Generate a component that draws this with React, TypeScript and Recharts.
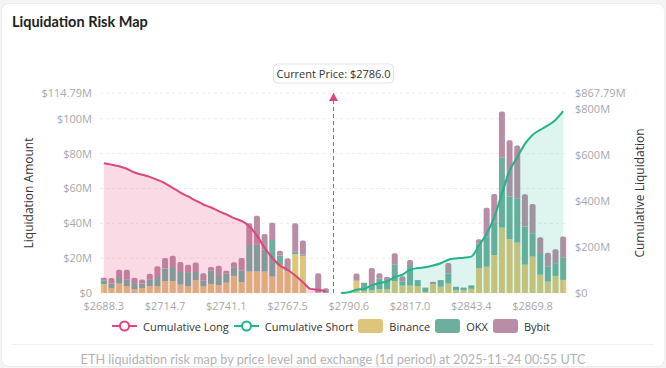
import { ComposedChart, Bar, Area, XAxis, YAxis, CartesianGrid, Legend, ReferenceLine } from 'recharts'

// price levels (bins), current price inserted between long and short sides
const prices = [
  '2688.3', '2691.6', '2694.9', '2698.2', '2701.5', '2704.8', '2708.1', '2711.4', '2714.7', '2718.0',
  '2721.3', '2724.6', '2727.9', '2731.2', '2734.5', '2737.8', '2741.1', '2744.4', '2747.7', '2751.0',
  '2754.3', '2757.6', '2760.9', '2764.2', '2767.5', '2770.8', '2774.1', '2777.4', '2780.7', '2784.0',
  '2786.0',
  '2787.3', '2790.6', '2793.9', '2797.2', '2800.5', '2803.8', '2807.1', '2810.4', '2813.7', '2817.0',
  '2820.3', '2823.6', '2826.9', '2830.2', '2833.5', '2836.8', '2840.1', '2843.4', '2846.7', '2850.0',
  '2853.3', '2856.6', '2859.9', '2863.2', '2866.5', '2869.8', '2873.1', '2876.4', '2879.7', '2883.0',
]
const currentPrice = '2786.0'

// liquidation amount per exchange, $M
const binance = [
  5.0, 2.9, 5.4, 4.0, 2.1, 2.9, 4.0, 3.8, 6.9, 6.9, 4.8, 3.8, 7.3, 3.8, 5.2, 4.6, 5.9, 9.8, 6.3, 12.3,
  12.3, 12.3, 9.4, 16.1, 12.5, 22.3, 21.3, 0, 0.3, 0,
  null,
  0, 0, 6.9, 1.2, 1.5, 2.1, 2.1, 6.9, 4.2, 4.2, 4.0, 0.6, 5.2, 3.6, 5.4, 1.6, 1.6, 2.4, 14.2, 15.1,
  21.8, 37.5, 30.9, 28.9, 16.3, 20.9, 10.5, 6.5, 9.8, 7.5,
]
const okx = [
  2.3, 2.5, 3.2, 3.6, 3.6, 2.5, 3.6, 5.4, 7.1, 8.0, 7.3, 8.2, 4.8, 3.4, 7.8, 5.7, 5.4, 5.0, 6.4, 15.3,
  15.7, 12.5, 21.0, 5.5, 1.8, 1.4, 0.6, 0, 1.0, 0.5,
  null,
  0, 0, 0.3, 4.7, 2.0, 6.3, 5.4, 9.6, 2.5, 11.9, 3.4, 2.5, 0, 3.8, 5.9, 2.0, 1.5, 2.0, 14.0, 17.2,
  19.1, 40.4, 24.5, 25.5, 21.8, 13.4, 11.9, 8.6, 7.3, 12.8,
]
const bybit = [
  1.5, 3.2, 4.8, 5.7, 3.1, 2.3, 3.4, 6.1, 6.1, 6.5, 5.7, 4.2, 5.4, 4.2, 1.9, 5.4, 1.5, 2.9, 7.4, 12.4,
  16.3, 9.0, 9.9, 2.6, 5.7, 16.3, 8.2, 0, 10.0, 2.2,
  null,
  0, 0, 4.0, 0, 10.9, 3.0, 1.7, 6.3, 2.9, 2.9, 0.1, 0, 1.3, 0, 5.9, 0, 0, 0, 2.7, 16.7,
  15.9, 26.3, 32.2, 30.3, 18.6, 16.8, 9.6, 8.0, 8.0, 12.1,
]

// cumulative liquidation, $M
const cumLong = [
  563, 557, 550, 539, 523, 513, 504, 491, 476, 456, 436, 419, 401, 384, 371, 355, 341, 325, 312, 290,
  249, 196, 153, 119, 101, 76, 47, 18, 14, 8,
]
const cumShort = [
  0, 3, 14, 18, 33, 43, 50, 69, 80, 101, 108, 112, 119, 129, 144, 150, 153, 158, 206, 257,
  329, 430, 531, 589, 647, 686, 708, 727, 751, 788.9,
]

const leftTicks = [0, 20, 40, 60, 80, 100, 114.79]
const rightTicks = [0, 200, 400, 600, 800, 867.79]

const longColor = '#e0457b'
const shortColor = '#22b38b'
const binanceColor = '#dec57b'
const okxColor = '#6fae9f'
const bybitColor = '#b98da6'

const shortStart = prices.length - cumShort.length

const data = prices.map((p, i) => ({
  price: p,
  binance: binance[i],
  okx: okx[i],
  bybit: bybit[i],
  cumLong: i < cumLong.length ? cumLong[i] : null,
  cumShort: i >= shortStart ? cumShort[i - shortStart] : null,
}))

const money = (v: number) => (v === 0 ? '$0' : `$${v}M`)

const legendItems = [
  { name: 'Cumulative Long', color: longColor, line: true },
  { name: 'Cumulative Short', color: shortColor, line: true },
  { name: 'Binance', color: binanceColor, line: false },
  { name: 'OKX', color: okxColor, line: false },
  { name: 'Bybit', color: bybitColor, line: false },
]

function LegendContent() {
  return (
    <div style={{ display: 'flex', justifyContent: 'center', alignItems: 'center', height: 22, fontSize: 11, color: '#333' }}>
      {legendItems.map((it) => (
        <div key={it.name} style={{ display: 'flex', alignItems: 'center', marginRight: 5 }}>
          {it.line ? (
            <svg width={25} height={14} style={{ marginRight: 6 }}>
              <line x1={0} y1={7} x2={25} y2={7} stroke={it.color} strokeWidth={2} />
              <circle cx={12.5} cy={7} r={4.5} fill="#fff" stroke={it.color} strokeWidth={2} />
            </svg>
          ) : (
            <div style={{ width: 25, height: 14, borderRadius: 3, background: it.color, marginRight: 6 }} />
          )}
          <span>{it.name}</span>
        </div>
      ))}
    </div>
  )
}

function CurrentPriceLabel(props: any) {
  const { x, y } = props.viewBox
  return (
    <g>
      <path d={`M${x},${y} l-4.5,8 l9,0 z`} fill={longColor} />
      <rect x={x - 60} y={y - 29} width={120} height={19} rx={4} fill="#fff" stroke="#e3e3e3" />
      <text x={x} y={y - 19.5} textAnchor="middle" dominantBaseline="central" fontSize={11} fill="#333">
        Current Price: ${currentPrice}
      </text>
    </g>
  )
}

export default function App() {
  const tick = { fontSize: 11, fill: '#a8a8a8' }
  return (
    <div style={{ position: 'fixed', left: 0, top: 0, width: 666, height: 368, background: '#f4f4f4', fontFamily: '"Open Sans", sans-serif' }}>
      <div style={{ position: 'absolute', left: 1, top: 3, width: 662, height: 362, background: '#fff', border: '1px solid #ececec', borderRadius: 8 }} />
      <div style={{ position: 'absolute', left: 12, top: 13, fontFamily: 'Lato, sans-serif', fontWeight: 700, fontSize: 14.5, color: '#222' }}>
        Liquidation Risk Map
      </div>
      <div style={{ position: 'absolute', left: 0, top: 0 }}>
        <ComposedChart width={666} height={337} data={data} margin={{ top: 93, right: 19, left: 20, bottom: 0 }} barCategoryGap="11%">
          <CartesianGrid yAxisId="left" vertical={false} stroke="#ececec" strokeDasharray="3 3" />
          <XAxis dataKey="price" interval={7} tickFormatter={(v) => `$${v}`} tick={tick} tickLine={false} axisLine={false} tickMargin={3} height={22} />
          <YAxis
            yAxisId="left"
            width={80}
            domain={[0, 114.79]}
            ticks={leftTicks}
            interval={0}
            tickFormatter={money}
            tick={tick}
            tickLine={false}
            axisLine={false}
            label={{ value: 'Liquidation Amount', angle: -90, position: 'insideLeft', offset: 9, style: { textAnchor: 'middle', fontSize: 12, fill: '#333' } }}
          />
          <YAxis
            yAxisId="right"
            orientation="right"
            width={80}
            domain={[0, 867.79]}
            ticks={rightTicks}
            interval={0}
            tickFormatter={money}
            tick={tick}
            tickLine={false}
            axisLine={false}
            label={{ value: 'Cumulative Liquidation', angle: -90, position: 'insideRight', offset: 7, style: { textAnchor: 'middle', fontSize: 12, fill: '#333' } }}
          />
          <Bar yAxisId="left" dataKey="binance" name="Binance" stackId="ex" fill={binanceColor} isAnimationActive={false} />
          <Bar yAxisId="left" dataKey="okx" name="OKX" stackId="ex" fill={okxColor} isAnimationActive={false} />
          <Bar yAxisId="left" dataKey="bybit" name="Bybit" stackId="ex" fill={bybitColor} radius={[2, 2, 0, 0]} isAnimationActive={false} />
          <Area
            yAxisId="right"
            type="monotone"
            dataKey="cumLong"
            name="Cumulative Long"
            stroke={longColor}
            strokeWidth={2}
            fill={longColor}
            fillOpacity={0.2}
            dot={false}
            activeDot={false}
            zIndex={350}
            isAnimationActive={false}
          />
          <Area
            yAxisId="right"
            type="monotone"
            dataKey="cumShort"
            name="Cumulative Short"
            stroke={shortColor}
            strokeWidth={2}
            fill={shortColor}
            fillOpacity={0.15}
            dot={false}
            activeDot={false}
            zIndex={350}
            isAnimationActive={false}
          />
          <ReferenceLine yAxisId="left" x={currentPrice} stroke={longColor} strokeDasharray="4 3" label={CurrentPriceLabel} />
          <Legend verticalAlign="bottom" height={22} content={LegendContent} />
        </ComposedChart>
      </div>
      <div style={{ position: 'absolute', left: 12, right: 12, top: 344, borderTop: '1px solid #f0f0f0' }} />
      <div style={{ position: 'absolute', left: 0, width: 666, top: 351, textAlign: 'center', fontFamily: 'Lato, sans-serif', fontSize: 12.7, color: '#b3b3b3' }}>
        ETH liquidation risk map by price level and exchange (1d period) at 2025-11-24 00:55 UTC
      </div>
    </div>
  )
}
